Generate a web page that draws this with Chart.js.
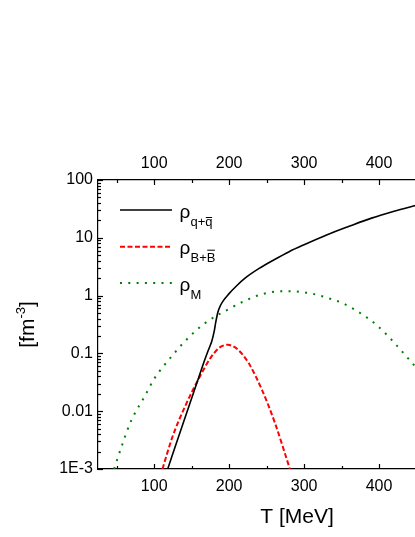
<!DOCTYPE html>
<html>
<head>
<meta charset="utf-8">
<script src="https://cdn.jsdelivr.net/npm/chart.js@4.4.0/dist/chart.umd.min.js"></script>
<style>
  html, body { margin: 0; padding: 0; background: #fff; overflow: hidden; }
  #wrap { width: 520px; height: 537px; }
</style>
</head>
<body>
<div id="wrap"><canvas id="densityChart"></canvas></div>
<script>
// Valeurs : T en MeV, densités en fm^-3
const quarkT = [118, 137, 147, 157, 165, 172, 177, 180, 182, 185, 188, 192, 199, 210, 222, 240, 260, 280, 300, 330, 360, 390, 420, 450];
const quarkRho = [0.001, 0.0054, 0.0129, 0.031, 0.063, 0.112, 0.166, 0.24, 0.34, 0.52, 0.66, 0.81, 1.05, 1.48, 2.04, 2.95, 4.17, 5.75, 7.59, 11.2, 15.8, 21.9, 28.8, 36.7];

const baryonT = [111, 124, 141, 161, 175, 186, 193, 198, 204, 212, 226, 244, 261, 281];
const baryonRho = [0.001, 0.0035, 0.012, 0.040, 0.083, 0.123, 0.138, 0.141, 0.135, 0.115, 0.068, 0.023, 0.0063, 0.001];

const mesonT = [46.5, 57, 69, 87, 100, 124, 144, 168, 199, 221, 244, 264, 280, 297, 308, 330, 352, 374, 396, 417, 437, 448];
const mesonRho = [0.001, 0.00257, 0.00676, 0.0178, 0.0363, 0.0912, 0.178, 0.335, 0.582, 0.813, 1.06, 1.175, 1.19, 1.15, 1.10, 0.923, 0.733, 0.507, 0.316, 0.170, 0.087, 0.06];

// Axes
const xMin = 25, xMax = 556;
const xTickValues = [100, 200, 300, 400, 500];
const yTickValues = [100, 10, 1, 0.1, 0.01, 0.001];
const yTickLabels = ['100', '10', '1', '0.1', '0.01', '1E-3'];

const FONT = "'Liberation Sans', Arial, sans-serif";

function toPoints(xs, ys) {
    return xs.map((x, i) => ({ x: x, y: ys[i] }));
}

// Styles des trois courbes (réutilisés pour la légende)
const seriesStyles = [
    { color: '#000000', width: 1.6, dash: [] },
    { color: '#ff0000', width: 2, dash: [5, 2.5] },
    { color: '#008000', width: 2, dash: [2, 6.3] }
];

// Graduations intérieures, titres et légende dessinés à la main
const decorPlugin = {
    id: 'decor',
    afterDraw(chart) {
        const ctx = chart.ctx;
        const xs = chart.scales.x;
        const ys = chart.scales.y;
        const a = chart.chartArea;
        ctx.save();
        ctx.strokeStyle = '#000';
        ctx.lineWidth = 1.2;

        // graduations x (bas et haut)
        for (let v = 50; v < xMax; v += 50) {
            const px = Math.round(xs.getPixelForValue(v)) + 0.5;
            const len = v % 100 === 0 ? 5 : 3;
            ctx.beginPath();
            ctx.moveTo(px, a.bottom); ctx.lineTo(px, a.bottom - len);
            ctx.moveTo(px, a.top); ctx.lineTo(px, a.top + len);
            ctx.stroke();
        }
        // graduations y logarithmiques
        for (let n = -3; n <= 2; n++) {
            for (let k = 1; k <= 9; k++) {
                if (n === 2 && k > 1) break;
                const v = k * Math.pow(10, n);
                const py = Math.round(ys.getPixelForValue(v)) + 0.5;
                const len = k === 1 ? 5 : 3;
                ctx.beginPath();
                ctx.moveTo(a.left, py); ctx.lineTo(a.left + len, py);
                ctx.stroke();
            }
        }

        ctx.fillStyle = '#000';
        // titre de l'axe x
        ctx.font = '21px ' + FONT;
        ctx.textAlign = 'center';
        ctx.textBaseline = 'alphabetic';
        ctx.fillText('T [MeV]', (a.left + a.right) / 2, 523);

        // titre de l'axe y avec exposant
        ctx.save();
        ctx.translate(34, (a.top + a.bottom) / 2);
        ctx.rotate(-Math.PI / 2);
        ctx.textAlign = 'left';
        const mainFont = '21px ' + FONT, supFont = '13px ' + FONT;
        ctx.font = mainFont;
        const w1 = ctx.measureText('[fm').width;
        const w3 = ctx.measureText(']').width;
        ctx.font = supFont;
        const w2 = ctx.measureText('-3').width;
        let x0 = -(w1 + w2 + w3) / 2;
        ctx.font = mainFont;
        ctx.fillText('[fm', x0, 0);
        ctx.font = supFont;
        ctx.fillText('-3', x0 + w1, -9);
        ctx.font = mainFont;
        ctx.fillText(']', x0 + w1 + w2, 0);
        ctx.restore();

        // légende
        const legendRows = [
            { y: 210, sub: 'q+q', bar: 'q', barDy: -8 },
            { y: 246.7, sub: 'B+B', bar: 'B', barDy: -12 },
            { y: 283, sub: 'M', bar: null, barDy: 0 }
        ];
        legendRows.forEach((row, i) => {
            const st = seriesStyles[i];
            ctx.save();
            ctx.strokeStyle = st.color;
            ctx.lineWidth = st.width;
            ctx.setLineDash(st.dash);
            ctx.beginPath();
            ctx.moveTo(120, row.y);
            ctx.lineTo(172, row.y);
            ctx.stroke();
            ctx.restore();

            ctx.textAlign = 'left';
            ctx.font = '19px ' + FONT;
            ctx.fillText('ρ', 179.5, row.y + 7.5);
            ctx.font = '13px ' + FONT;
            const sx = 190.5, sy = row.y + 15.5;
            ctx.fillText(row.sub, sx, sy);
            if (row.bar) {
                const full = ctx.measureText(row.sub).width;
                const wb = ctx.measureText(row.bar).width;
                ctx.lineWidth = 1;
                ctx.beginPath();
                ctx.moveTo(sx + full - wb + 0.5, sy + row.barDy);
                ctx.lineTo(sx + full - 0.5, sy + row.barDy);
                ctx.stroke();
            }
        });
        ctx.restore();
    }
};

document.addEventListener('DOMContentLoaded', function() {
    const tickFont = { family: FONT, size: 16 };
    const axisBorder = { display: true, color: '#000', width: 1.2 };

    const config = {
        type: 'line',
        data: {
            datasets: [
                { label: 'q', data: toPoints(quarkT, quarkRho) },
                { label: 'B', data: toPoints(baryonT, baryonRho) },
                { label: 'M', data: toPoints(mesonT, mesonRho) }
            ].map((d, i) => Object.assign(d, {
                borderColor: seriesStyles[i].color,
                borderWidth: seriesStyles[i].width,
                borderDash: seriesStyles[i].dash,
                pointRadius: 0,
                fill: false,
                cubicInterpolationMode: 'monotone'
            }))
        },
        options: {
            responsive: true,
            maintainAspectRatio: false,
            animation: false,
            layout: { padding: { top: 140, right: 24, left: 0, bottom: 0 } },
            plugins: {
                legend: { display: false },
                tooltip: { enabled: false }
            },
            scales: {
                x: {
                    type: 'linear',
                    position: 'bottom',
                    min: xMin,
                    max: xMax,
                    grid: { display: false, drawTicks: false },
                    border: axisBorder,
                    afterBuildTicks: s => { s.ticks = xTickValues.map(v => ({ value: v })); },
                    afterFit: s => { s.height = 68; },
                    ticks: { color: '#000', font: tickFont, padding: 8, autoSkip: false, maxRotation: 0 }
                },
                x2: {
                    type: 'linear',
                    position: 'top',
                    min: xMin,
                    max: xMax,
                    grid: { display: false, drawTicks: false },
                    border: axisBorder,
                    afterBuildTicks: s => { s.ticks = xTickValues.map(v => ({ value: v })); },
                    afterFit: s => { s.height = 40; },
                    ticks: { color: '#000', font: tickFont, padding: 7, autoSkip: false, maxRotation: 0 }
                },
                y: {
                    type: 'logarithmic',
                    min: 0.001,
                    max: 100,
                    grid: { display: false, drawTicks: false },
                    border: axisBorder,
                    afterBuildTicks: s => { s.ticks = yTickValues.map(v => ({ value: v })); },
                    afterFit: s => { s.width = 98; },
                    ticks: {
                        color: '#000',
                        font: tickFont,
                        padding: 5,
                        autoSkip: false,
                        callback: v => {
                            const i = yTickValues.findIndex(t => Math.abs(t - v) / t < 1e-6);
                            return i >= 0 ? yTickLabels[i] : '';
                        }
                    }
                }
            }
        },
        plugins: [decorPlugin]
    };

    new Chart(document.getElementById('densityChart'), config);
});
</script>
</body>
</html>
